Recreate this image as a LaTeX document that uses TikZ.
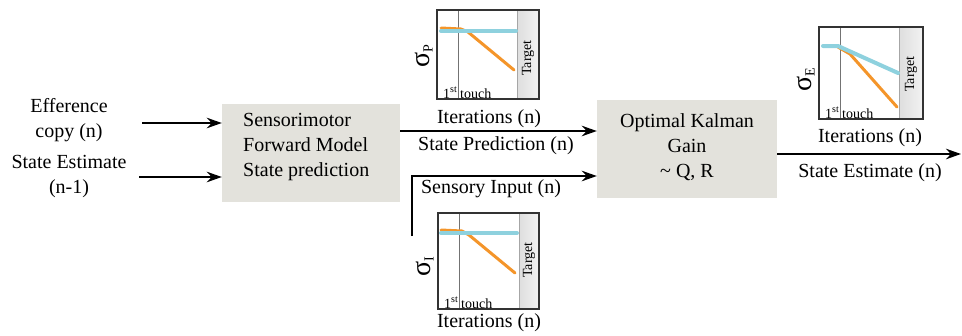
\documentclass[tikz,border=0pt]{standalone}
\usepackage{fontspec}
\setmainfont{Liberation Serif}
\usetikzlibrary{arrows.meta}

\definecolor{boxgray}{HTML}{E3E2DC}
\definecolor{curvecyan}{HTML}{8ED1DE}
\definecolor{curveorange}{HTML}{F4952A}

\tikzset{
  every node/.style={font=\fontsize{20}{25}\selectfont, inner sep=0pt},
  procbox/.style={fill=boxgray, draw=none},
  flow/.style={line width=2.1pt, -{Stealth[length=15pt,width=10.5pt]}},
  plotframe/.style={draw=black!80, line width=1.3pt},
  touchline/.style={draw=black!55, line width=0.8pt},
  smalltext/.style={font=\fontsize{14}{14}\selectfont},
  targetstrip/.style={left color=black!13, right color=black!5, draw=black!35, line width=0.5pt},
  cyancurve/.style={draw=curvecyan, line width=4pt, line cap=round},
  orangecurve/.style={draw=curveorange, line width=3pt, line cap=round},
}

\newcommand{\sigmalabel}[1]{{\fontsize{28}{28}\selectfont σ}\raisebox{-3pt}{\fontsize{14}{14}\selectfont #1}}
\newcommand{\firsttouch}{1\raisebox{5.5pt}{\fontsize{10}{10}\selectfont st}}

\begin{document}
\begin{tikzpicture}[x=1pt,y=1pt]
\useasboundingbox (0,0) rectangle (962,-335);

% ---------- processing blocks ----------
\node[procbox, minimum width=178, minimum height=98] (fwd) at (311,-153) {};
\node[anchor=west, align=left] (fwdtxt) at (243,-147.5) {Sensorimotor\\Forward Model\\State prediction};

\node[procbox, minimum width=180, minimum height=98] (kal) at (687,-149) {};
\node[align=center] (kaltxt) at (687,-147.5) {Optimal Kalman\\Gain\\\textasciitilde{} Q, R};

% ---------- inputs on the left ----------
\node[align=center] (effcopy) at (69,-120.5) {Efference\\copy (n)};
\node[align=center] (prevest) at (69,-176.5) {State Estimate\\(n-1)};
\coordinate (efin) at (142,-123);
\coordinate (estin) at (139,-177);
\draw[flow] (efin) -- (fwd.west |- efin);
\draw[flow] (estin) -- (fwd.west |- estin);

% ---------- connections between blocks ----------
\draw[flow] (fwd.east |- 0,-131) -- (kal.west |- 0,-131);
\node (predlbl) at (496,-146) {State Prediction (n)};

\coordinate (sensin) at (412,-236);
\draw[flow] (sensin) |- (kal.west |- 0,-176);
\node (senslbl) at (491,-189) {Sensory Input (n)};

\coordinate (estout) at (961,-154);
\draw[flow] (kal.east |- estout) -- (estout);
\node (estlbl) at (870,-173) {State Estimate (n)};

% ---------- plot: prediction uncertainty ----------
\filldraw[targetstrip] (517,-10) rectangle (539,-99);
\draw[touchline] (458,-10) -- (458,-99);
\draw[orangecurve] (441,-28) -- (461,-29) -- (468,-32) -- (514,-70);
\draw[cyancurve] (441,-31) -- (516,-31);
\node[plotframe, minimum width=102, minimum height=89] (plotP) at (488,-54.5) {};
\node[smalltext, rotate=90] (tgtP) at (528,-58) {Target};
\node[smalltext, anchor=south east] (firstP) at (457,-98.5) {\firsttouch};
\node[smalltext, anchor=south west] (touchP) at (460,-98.5) {touch};
\node[rotate=90] (sigP) at (424,-56) {\sigmalabel{P}};
\node (iterP) at (489,-119) {Iterations (n)};

% ---------- plot: sensory uncertainty ----------
\filldraw[targetstrip] (519,-213) rectangle (539,-309);
\draw[touchline] (459,-213) -- (459,-309);
\draw[orangecurve] (441,-230) -- (462,-231) -- (469,-235) -- (515,-273);
\draw[cyancurve] (441,-233) -- (517,-233);
\node[plotframe, minimum width=101, minimum height=96] (plotI) at (488.5,-261) {};
\node[smalltext, rotate=90] (tgtI) at (529,-260) {Target};
\node[smalltext, anchor=south east] (firstI) at (458,-308.5) {\firsttouch};
\node[smalltext, anchor=south west] (touchI) at (461,-308.5) {touch};
\node[rotate=90] (sigI) at (425,-267) {\sigmalabel{I}};
\node (iterI) at (489,-323) {Iterations (n)};

% ---------- plot: estimate uncertainty ----------
\filldraw[targetstrip] (899,-27) rectangle (923,-119);
\draw[touchline] (840,-27) -- (840,-119);
\draw[orangecurve] (838,-47) -- (850,-54) -- (897,-107);
\draw[cyancurve] (823,-46) -- (838,-46) -- (898,-73);
\node[plotframe, minimum width=104, minimum height=92] (plotE) at (871,-73) {};
\node[smalltext, rotate=90] (tgtE) at (911,-74) {Target};
\node[smalltext, anchor=south east] (firstE) at (839,-118.5) {\firsttouch};
\node[smalltext, anchor=south west] (touchE) at (842,-118.5) {touch};
\node[rotate=90] (sigE) at (806,-80) {\sigmalabel{E}};
\node (iterE) at (870,-138) {Iterations (n)};
\end{tikzpicture}
\end{document}
